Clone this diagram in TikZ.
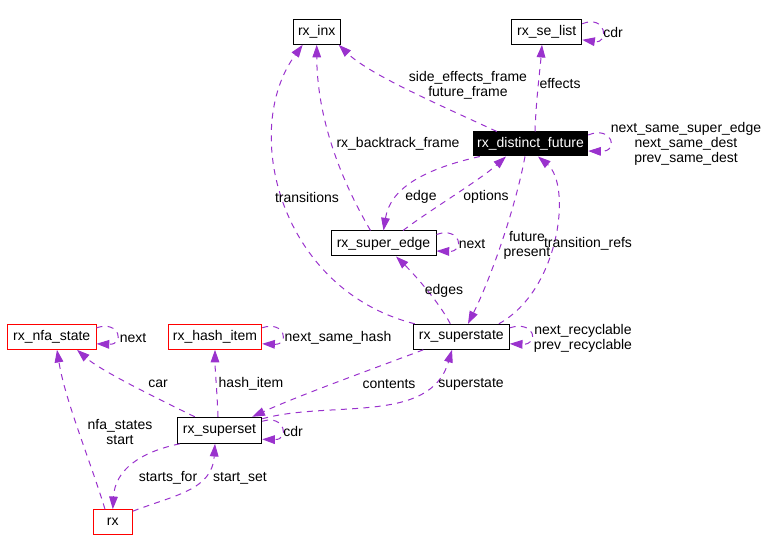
\documentclass[tikz,border=0pt]{standalone}
\usepackage{fontspec}
\setmainfont{Liberation Sans}
\usetikzlibrary{arrows.meta,calc}
\definecolor{edgec}{HTML}{9A32CD}
\definecolor{redc}{HTML}{FF0000}
\begin{document}
\begin{tikzpicture}[x=0.75pt,y=-0.75pt,
  font=\fontsize{10.5}{11.25}\selectfont,
  box/.style={draw=black, line width=0.75pt, minimum width=#1*0.75pt,
    minimum height=25*0.75pt, inner sep=0pt, fill=white},
  redbox/.style={box=#1, draw=redc},
  darkbox/.style={box=#1, fill=black, draw=black, text=white, minimum height=24*0.75pt},
  rel/.style={draw=edgec, line width=0.75pt, dash pattern=on 4.5pt off 4pt,
    -{Triangle[length=9.5pt,width=6.5pt]}},
  lbl/.style={inner sep=0pt, align=center}]
\useasboundingbox (0,0) rectangle (768,552);
% nodes
\node[box=47]      (inx)       at (316.7,31.8)  {rx\_inx};
\node[box=70]      (selist)    at (546.7,31.8)  {rx\_se\_list};
\node[darkbox=114.4] (df)      at (530.5,144)   {rx\_distinct\_future};
\node[box=105]     (superedge) at (383.5,243.5) {rx\_super\_edge};
\node[box=96]      (superstate) at (461.3,336.8) {rx\_superstate};
\node[redbox=88.7] (nfa)       at (51.7,336.8)  {rx\_nfa\_state};
\node[redbox=93.4] (hash)      at (215,336.8)   {rx\_hash\_item};
\node[box=84.4, minimum height=26*0.75pt] (superset) at (219.5,430.3) {rx\_superset};
\node[redbox=39]   (rx)        at (112.8,522.2) {rx};
% edges
\draw[rel] ($(superstate.north west)+(2,0)$) .. controls (280,290) and (240,130) .. ($(inx.south west)+(10,0)$);
\draw[rel] ($(superedge.north)+(-13,0)$) .. controls (335,170) and (317,110) .. (inx.south);
\draw[rel] ($(df.north west)+(24,0)$) .. controls (440,105) and (370,75) .. ($(inx.south east)+(-2,0)$);
\draw[rel] ($(df.north)+(4.5,0)$) .. controls (536,100) and (540,70) .. ($(selist.south)+(-4.7,0)$);
\draw[rel] ($(selist.east)+(0,-8)$) .. controls (606,14) and (610,44) .. ($(selist.east)+(0,8)$);
\draw[rel] ($(df.east)+(0,-9)$) .. controls (612,125) and (620,152) .. ($(df.east)+(0,7)$);
\draw[rel] ($(df.south west)+(7,0)$) .. controls (420,170) and (390,190) .. (superedge.north);
\draw[rel] ($(superedge.north)+(19.5,0)$) .. controls (430,210) and (480,180) .. ($(df.south)+(-24.5,0)$);
\draw[rel] ($(df.south)+(-5.5,0)$) .. controls (515,210) and (490,280) .. ($(superstate.north)+(6.7,0)$);
\draw[rel] ($(superstate.north east)+(-11,0)$) .. controls (560,290) and (572,185) .. ($(df.south)+(7.5,0)$);
\draw[rel] ($(superstate.north)+(-11,0)$) .. controls (438,300) and (410,270) .. ($(superedge.south)+(12.5,0)$);
\draw[rel] ($(superedge.east)+(0,-9)$) .. controls (460,226) and (466,252) .. ($(superedge.east)+(0,7.5)$);
\draw[rel] ($(superstate.east)+(0,-9)$) .. controls (535,320) and (540,345) .. ($(superstate.east)+(0,7)$);
\draw[rel] ($(nfa.east)+(0,-9)$) .. controls (120,320) and (125,345) .. ($(nfa.east)+(0,7)$);
\draw[rel] ($(hash.east)+(0,-9)$) .. controls (285,320) and (290,345) .. ($(hash.east)+(0,7)$);
\draw[rel] ($(superset.north west)+(18,0)$) .. controls (150,395) and (100,370) .. ($(nfa.south)+(25.3,0)$);
\draw[rel] ($(superset.north)+(-1.5,0)$) .. controls (217,390) and (215,370) .. (hash.south);
\draw[rel] ($(superstate.south west)+(10.5,0)$) .. controls (370,370) and (300,395) .. ($(superset.north east)+(-10,0)$);
\draw[rel] ($(superset.north east)+(0,2)$) .. controls (330,400) and (430,425) .. ($(superstate.south)+(-9.3,0)$);
\draw[rel] ($(superset.east)+(0,-9)$) .. controls (285,414) and (290,440) .. ($(superset.east)+(0,9)$);
\draw[rel] ($(rx.north)+(-7.8,0)$) .. controls (90,460) and (65,400) .. ($(nfa.south)+(5.3,0)$);
\draw[rel] ($(superset.south west)+(3,0)$) .. controls (140,452) and (115,470) .. (rx.north);
\draw[rel] ($(rx.north east)+(0,2)$) .. controls (175,495) and (212,490) .. ($(superset.south)+(-4.5,0)$);
% labels
\node[lbl] (l1)  at (307,197) {transitions};
\node[lbl] (l2)  at (398,144) {rx\_backtrack\_frame};
\node[lbl] (l3)  at (468,85)  {side\_effects\_frame\\future\_frame};
\node[lbl] (l4)  at (560,84)  {effects};
\node[lbl] (l5)  at (613,32)  {cdr};
\node[lbl] (l6)  at (686,144) {next\_same\_super\_edge\\next\_same\_dest\\prev\_same\_dest};
\node[lbl] (l7)  at (421,197) {edge};
\node[lbl] (l8)  at (486,197) {options};
\node[lbl] (l9)  at (527,245) {future\\present};
\node[lbl] (l10) at (588,244) {transition\_refs};
\node[lbl] (l11) at (444,291) {edges};
\node[lbl] (l12) at (472,244) {next};
\node[lbl] (l13) at (583,338) {next\_recyclable\\prev\_recyclable};
\node[lbl] (l14) at (133,338) {next};
\node[lbl] (l15) at (338,338) {next\_same\_hash};
\node[lbl] (l16) at (158,384) {car};
\node[lbl] (l17) at (251,384) {hash\_item};
\node[lbl] (l18) at (389,384) {contents};
\node[lbl] (l19) at (471,384) {superstate};
\node[lbl] (l20) at (293,431) {cdr};
\node[lbl] (l21) at (120,432) {nfa\_states\\start};
\node[lbl] (l22) at (168,478) {starts\_for};
\node[lbl] (l23) at (240,478) {start\_set};
\end{tikzpicture}
\end{document}
